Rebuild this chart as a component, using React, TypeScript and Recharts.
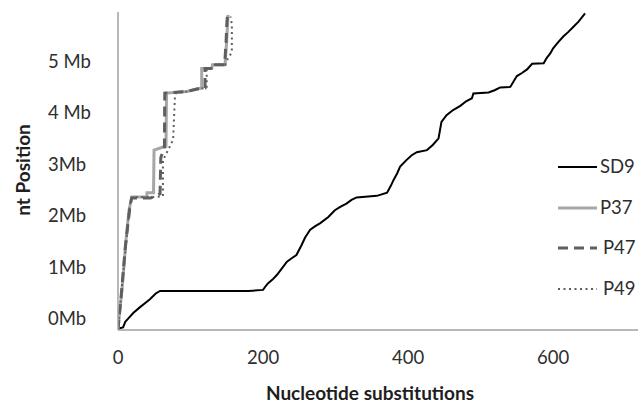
import React from 'react';
import { LineChart, Line, XAxis, YAxis, Legend } from 'recharts';

// x = nucleotide substitutions, y = position in Mb
const sd9X = [0, 7, 10, 14, 21, 30, 38, 44, 52, 58, 180, 200, 204, 207, 213, 219, 226, 233, 240, 246, 253, 258, 265, 272, 279, 290, 299, 307, 315, 322, 329, 357, 371, 376, 380, 385, 389, 398, 405, 412, 426, 434, 442, 446, 453, 462, 472, 480, 488, 490, 511, 520, 527, 541, 546, 550, 557, 564, 571, 587, 591, 596, 600, 607, 614, 621, 628, 635, 644];
const sd9Y = [0.03, 0.05, 0.16, 0.22, 0.33, 0.44, 0.53, 0.6, 0.71, 0.76, 0.76, 0.78, 0.86, 0.91, 0.98, 1.07, 1.2, 1.33, 1.4, 1.46, 1.65, 1.8, 1.95, 2.02, 2.08, 2.2, 2.33, 2.4, 2.46, 2.53, 2.58, 2.61, 2.67, 2.8, 2.92, 3.05, 3.18, 3.31, 3.4, 3.46, 3.5, 3.6, 3.73, 4.05, 4.18, 4.28, 4.36, 4.45, 4.51, 4.6, 4.62, 4.67, 4.72, 4.73, 4.85, 4.94, 5.0, 5.07, 5.18, 5.19, 5.29, 5.38, 5.48, 5.6, 5.71, 5.8, 5.9, 6.0, 6.16];

const p37X = [0, 1.4, 5.5, 8.3, 11, 13.1, 15.2, 18.9, 39.6, 40, 49, 49.7, 62.5, 66.2, 66.9, 94.8, 108.6, 115.4, 115.4, 129.2, 130.3, 147.6, 149.9, 151, 151.7];
const p37Y = [0, 0.23, 0.78, 1.26, 1.75, 2.04, 2.33, 2.59, 2.59, 2.67, 2.67, 3.5, 3.56, 3.57, 4.61, 4.64, 4.69, 4.71, 5.09, 5.09, 5.16, 5.16, 5.64, 5.93, 6.13];

const p47X = [0, 1.5, 4, 7, 10, 12, 14, 17, 19, 45, 58, 59, 64, 64.5, 95, 109, 120, 120, 129, 130, 147, 149, 150, 151];
const p47Y = [0, 0.25, 0.6, 1.1, 1.6, 1.85, 2.1, 2.45, 2.57, 2.57, 2.65, 3.35, 3.56, 4.61, 4.64, 4.69, 4.71, 5.09, 5.09, 5.16, 5.16, 5.6, 5.95, 6.13];

const p49X = [0, 2, 5, 9, 12, 15, 18, 20, 50, 62, 62, 76, 78.6, 80, 95, 109, 122.3, 122.3, 129, 131, 148, 152, 157, 157, 155];
const p49Y = [0, 0.3, 0.8, 1.35, 1.8, 2.3, 2.55, 2.59, 2.59, 2.6, 3.3, 3.7, 4.57, 4.62, 4.64, 4.69, 4.71, 5.06, 5.09, 5.16, 5.16, 5.3, 5.4, 5.95, 6.1];

const xTicks = [0, 200, 400, 600];
const yTicks = [0, 1, 2, 3, 4, 5];
const yTickLabels = ['0Mb', '1Mb', '2Mb', '3Mb', '4 Mb', '5 Mb'];

const zip = (xs: number[], ys: number[]) => xs.map((x, i) => ({ x, y: ys[i] }));

const series = [
  { name: 'SD9', data: zip(sd9X, sd9Y), color: '#000000', width: 2, dash: undefined as string | undefined },
  { name: 'P37', data: zip(p37X, p37Y), color: '#a6a6a6', width: 3, dash: undefined },
  { name: 'P47', data: zip(p47X, p47Y), color: '#5f5f5f', width: 3, dash: '10 6' },
  { name: 'P49', data: zip(p49X, p49Y), color: '#5f5f5f', width: 2, dash: '2 3.5' },
];

const FONT = 'Lato';
const TEXT = '#2e2e2e';
const FS = 18.5;

const YTick = (props: any) => {
  const { y, payload } = props;
  const idx = yTicks.indexOf(payload.value);
  return (
    <text x={48} y={y - 11.5} dy="0.35em" textAnchor="start" fontFamily={FONT} fontSize={FS} fill={TEXT}>
      {yTickLabels[idx]}
    </text>
  );
};

const XTick = (props: any) => {
  const { x, payload } = props;
  return (
    <text x={x} y={358} dy="0.35em" textAnchor="middle" fontFamily={FONT} fontSize={FS} fill={TEXT}>
      {payload.value}
    </text>
  );
};

const LegendContent = () => (
  <div style={{ fontFamily: FONT, fontSize: FS, color: TEXT }}>
    {series.map((s, i) => (
      <div key={s.name} style={{ position: 'absolute', left: 0, top: i * 40.7, height: 22, width: 90 }}>
        <svg width={90} height={22} style={{ position: 'absolute', left: 0, top: 0 }}>
          <line x1={2} y1={11} x2={41} y2={11} stroke={s.color} strokeWidth={s.width} strokeDasharray={s.dash} />
          <text x={i === 0 || i === 1 ? 44 : 47} y={11} dy="0.35em" fontFamily={FONT} fontSize={FS} fill={TEXT}>{s.name}</text>
        </svg>
      </div>
    ))}
  </div>
);

export default function App() {
  return (
    <div style={{ position: 'absolute', left: 0, top: 0 }}>
      <LineChart width={638} height={405} margin={{ top: 12, right: 0, bottom: 0, left: 0 }}>
        <XAxis
          type="number"
          dataKey="x"
          domain={[0, 717]}
          ticks={xTicks}
          allowDataOverflow
          tickLine={false}
          axisLine={{ stroke: '#a0a0a0', strokeWidth: 1.5 }}
          tick={<XTick />}
          height={75}
          label={() => (
            <text x={370} y={393} dy="0.35em" textAnchor="middle" fontFamily={FONT} fontWeight="bold" fontSize={19} fill="#1e1e1e">
              Nucleotide substitutions
            </text>
          )}
        />
        <YAxis
          type="number"
          dataKey="y"
          domain={[0, 6.187]}
          ticks={yTicks}
          allowDataOverflow
          tickLine={false}
          axisLine={{ stroke: '#a0a0a0', strokeWidth: 1.5 }}
          tick={<YTick />}
          width={118}
          label={() => (
            <text x={23.5} y={170} dy="0.35em" textAnchor="middle" transform="rotate(-90 23.5 170)" fontFamily={FONT} fontWeight="bold" fontSize={19} fill="#1e1e1e">
              nt Position
            </text>
          )}
        />
        {series.map((s) => (
          <Line
            key={s.name}
            name={s.name}
            data={s.data}
            dataKey="y"
            type="linear"
            stroke={s.color}
            strokeWidth={s.width}
            strokeDasharray={s.dash}
            dot={false}
            activeDot={false}
            isAnimationActive={false}
          />
        ))}
        <Legend
          layout="horizontal"
          verticalAlign="middle"
          align="center"
          content={<LegendContent />}
          wrapperStyle={{ position: 'absolute', left: 556, top: 156, width: 82, height: 150 }}
        />
      </LineChart>
    </div>
  );
}
